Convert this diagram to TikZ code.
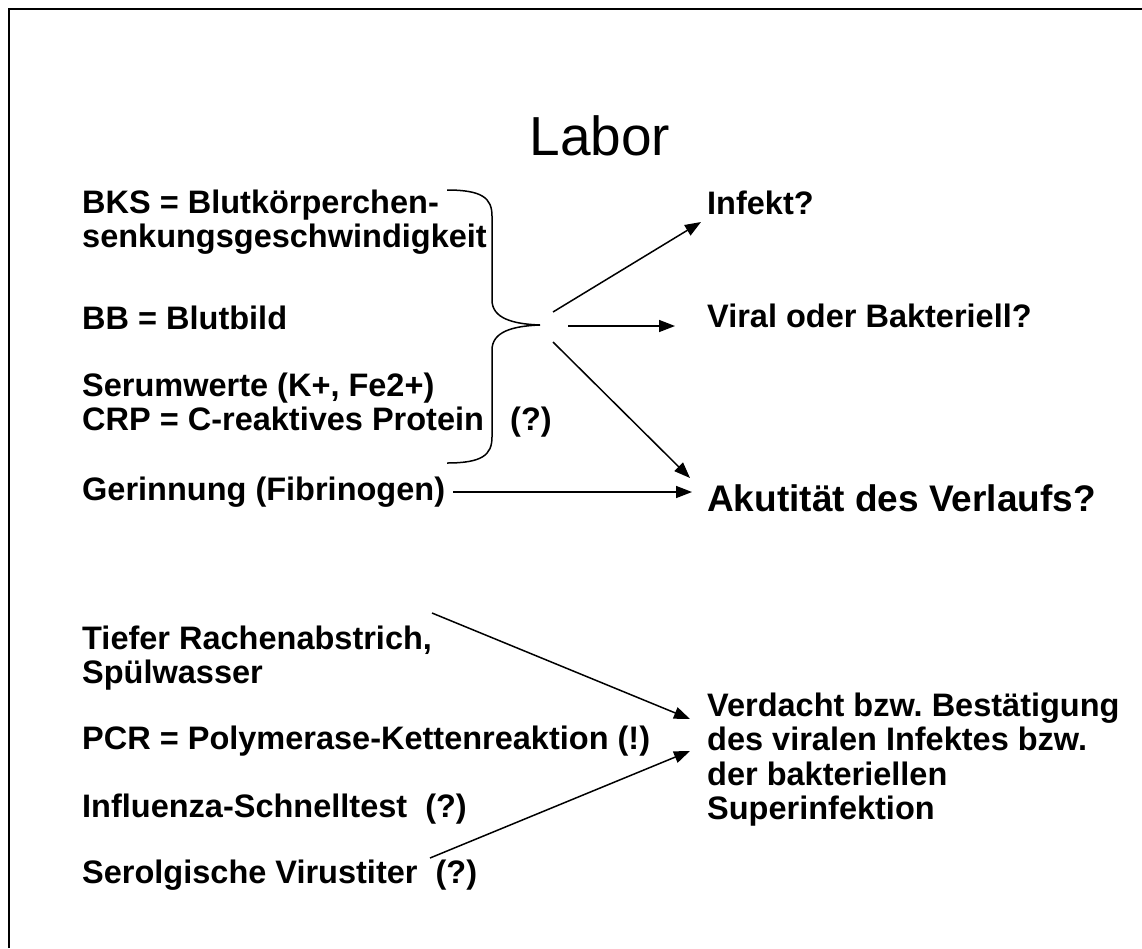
\documentclass[tikz,border=0pt]{standalone}
\usepackage{fontspec}
\setmainfont{Liberation Sans}
\usetikzlibrary{arrows.meta,positioning}
\frenchspacing

\tikzset{
  txt/.style={font=\bfseries\fontsize{32.5}{34.5}\selectfont, anchor=base west, inner sep=0pt, align=left},
  pfeil/.style={line width=1.5pt, -{Triangle[length=16pt,width=12pt]}}
}

\begin{document}
\begin{tikzpicture}[x=1pt,y=-1pt]
\useasboundingbox (0,0) rectangle (1142,948);
\draw[line width=2pt] (9,948) -- (9,9) -- (1142,9);

\node[font=\fontsize{55}{60}\selectfont, anchor=base, inner sep=0pt] (titel) at (600,155) {Labor};

% linke Spalte (base = letzte Zeile)
\node[txt] (bks) at (82,247.6) {BKS = Blutkörperchen-\\senkungsgeschwindigkeit};
\node[txt] (bb) at (82,329.6) {BB = Blutbild};
\node[txt] (serum) at (82,430.6) {Serumwerte (K+, Fe2+)\\CRP = C-reaktives Protein};
\node[txt] (frage) at (510,430.6) {(?)};
\node[txt] (gerinnung) at (82,500.6) {Gerinnung (Fibrinogen)};
\node[txt] (tiefer) at (82,683.6) {Tiefer Rachenabstrich,\\Spülwasser};
\node[txt] (pcr) at (82,749.6) {PCR = Polymerase-Kettenreaktion (!)};
\node[txt] (influenza) at (82,817.6) {Influenza-Schnelltest\ \ (?)};
\node[txt] (serol) at (82,883.6) {Serolgische Virustiter\ \ (?)};

% rechte Spalte
\node[txt] (infekt) at (707,214.6) {Infekt?};
\node[txt] (viral) at (707,327.6) {Viral oder Bakteriell?};
\node[txt, font=\bfseries\fontsize{37}{40}\selectfont] (akut) at (707,511) {Akutität des Verlaufs?};
\node[txt] (verdacht) at (707,819.6) {Verdacht bzw. Bestätigung\\des viralen Infektes bzw.\\der bakteriellen\\Superinfektion};

% Klammer
\draw[line width=1.5pt] (447,190) .. controls (482,190) and (492,198) .. (492,216) -- (492,300)
  .. controls (492,318) and (512,324) .. (540,325)
  .. controls (512,326) and (492,332) .. (492,350) -- (492,437)
  .. controls (492,455) and (482,463) .. (447,463);

\coordinate (fan1) at (553,312);
\coordinate (fan2) at (568,326);
\coordinate (fan3) at (553,342);
\coordinate (zielInfekt) at (701,222);
\coordinate (zielViral) at (675,326);
\coordinate (zielAkut) at (690,478);
\coordinate (startGer) at (453,492);
\coordinate (zielGer) at (692,492);
\coordinate (startTiefer) at (432,613);
\coordinate (zielTiefer) at (690,719);
\coordinate (startSerol) at (430,858);
\coordinate (zielSerol) at (690,751);

\draw[pfeil] (fan1) -- (zielInfekt);
\draw[pfeil] (fan2) -- (zielViral);
\draw[pfeil] (fan3) -- (zielAkut);
\draw[pfeil] (startGer) -- (zielGer);
\draw[pfeil] (startTiefer) -- (zielTiefer);
\draw[pfeil] (startSerol) -- (zielSerol);
\end{tikzpicture}
\end{document}
